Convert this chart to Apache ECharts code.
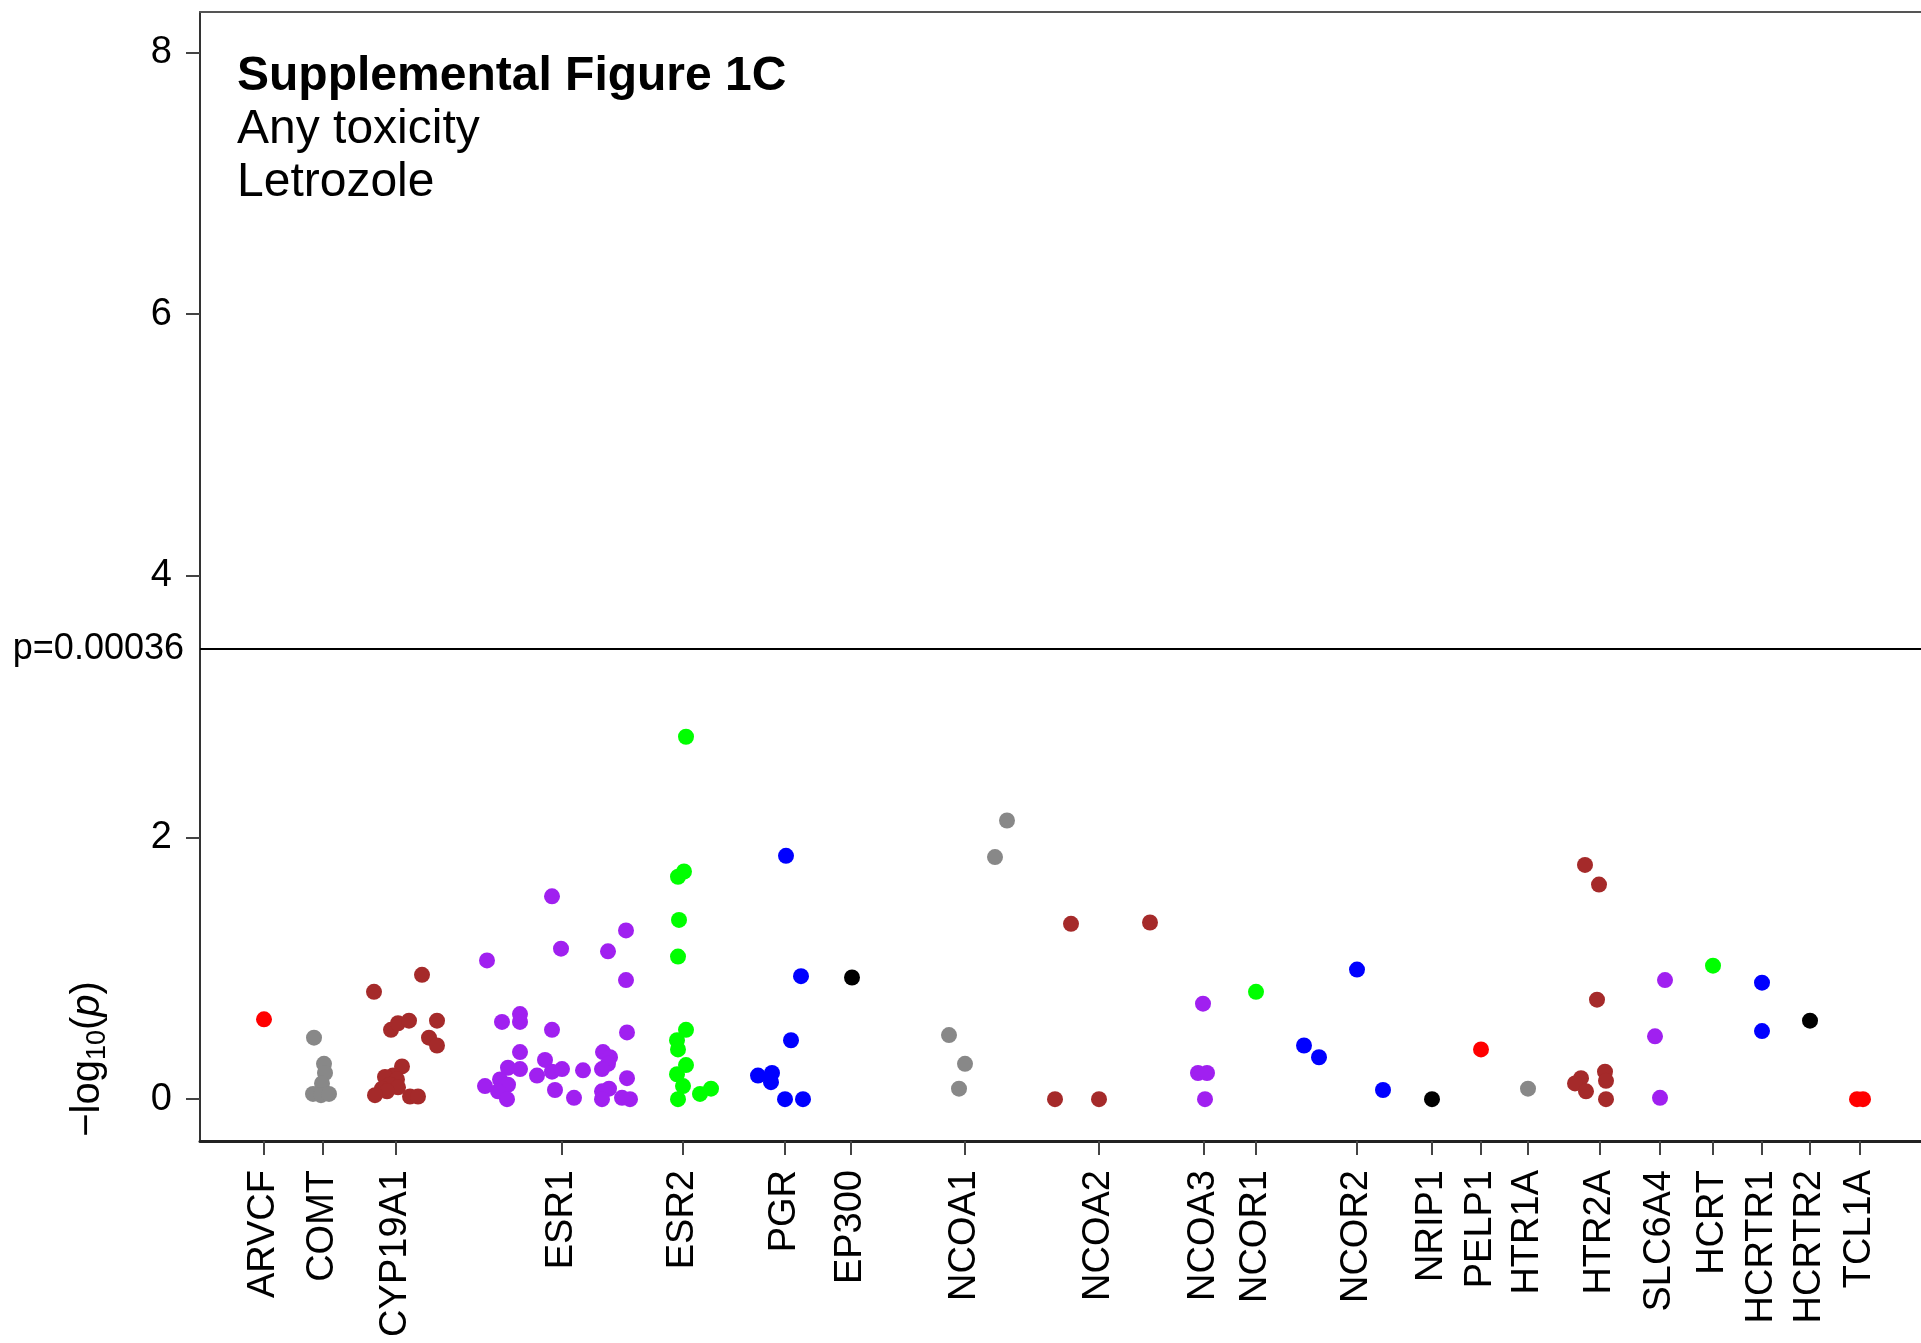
<!DOCTYPE html>
<html>
<head>
<meta charset="utf-8">
<script src="https://cdn.jsdelivr.net/npm/echarts@6/dist/echarts.min.js"></script>
<style>
html,body{margin:0;padding:0;background:#fff;}
#chart{width:1921px;height:1343px;}
</style>
</head>
<body>
<div id="chart"></div>
<script>
// Gene labels and their tick positions on the x scale
const geneNames = ['ARVCF','COMT','CYP19A1','ESR1','ESR2','PGR','EP300','NCOA1','NCOA2','NCOA3','NCOR1','NCOR2','NRIP1','PELP1','HTR1A','HTR2A','SLC6A4','HCRT','HCRTR1','HCRTR2','TCL1A'];
const geneTicks = [64,123,196,362,483,585,651,765,899,1004,1056,1157,1232,1281,1328,1400,1460,1513,1562,1610,1660];
const geneColors = ['#FF0000','#888888','#A52A2A','#A020F0','#00FF00','#0000FF','#000000','#888888','#A52A2A','#A020F0','#00FF00','#0000FF','#000000','#FF0000','#888888','#A52A2A','#A020F0','#00FF00','#0000FF','#000000','#FF0000'];

// Points per gene: [position, -log10(p)]
const ARVCF = [[64,0.61]];
const COMT = [[114,0.47],[124,0.27],[125,0.20],[122,0.12],[113,0.04],[121,0.03],[129,0.04]];
const CYP19A1 = [[174,0.82],[222,0.95],[191,0.53],[198,0.58],[209,0.60],[237,0.60],[229,0.47],[237,0.41],[202,0.25],[193,0.18],[185,0.17],[197,0.15],[190,0.11],[198,0.09],[182,0.08],[187,0.06],[175,0.03],[210,0.02],[218,0.02]];
const ESR1 = [[352,1.55],[426,1.29],[361,1.15],[408,1.13],[287,1.06],[426,0.91],[302,0.59],[320,0.65],[320,0.59],[352,0.53],[427,0.51],[320,0.36],[345,0.30],[403,0.36],[410,0.32],[408,0.27],[308,0.24],[320,0.23],[337,0.18],[352,0.21],[362,0.23],[383,0.22],[402,0.23],[427,0.16],[285,0.10],[300,0.15],[308,0.11],[298,0.06],[307,0.00],[355,0.07],[374,0.01],[402,0.06],[409,0.08],[402,0.00],[422,0.01],[430,0.00]];
const ESR2 = [[486,2.77],[484,1.74],[478,1.70],[479,1.37],[478,1.09],[486,0.53],[477,0.45],[478,0.38],[486,0.26],[477,0.19],[483,0.10],[478,0.00],[500,0.04],[511,0.08]];
const PGR = [[586,1.86],[601,0.94],[591,0.45],[558,0.18],[572,0.20],[571,0.13],[585,0.00],[603,0.00]];
const EP300 = [[652,0.93]];
const NCOA1 = [[807,2.13],[795,1.85],[749,0.49],[765,0.27],[759,0.08]];
const NCOA2 = [[871,1.34],[950,1.35],[855,0.00],[899,0.00]];
const NCOA3 = [[1003,0.73],[998,0.20],[1007,0.20],[1005,0.00]];
const NCOR1 = [[1056,0.82]];
const NCOR2 = [[1157,0.99],[1104,0.41],[1119,0.32],[1183,0.07]];
const NRIP1 = [[1232,0.00]];
const PELP1 = [[1281,0.38]];
const HTR1A = [[1328,0.08]];
const HTR2A = [[1385,1.79],[1399,1.64],[1397,0.76],[1381,0.16],[1375,0.12],[1386,0.06],[1405,0.21],[1406,0.14],[1406,0.00]];
const SLC6A4 = [[1465,0.91],[1455,0.48],[1460,0.01]];
const HCRT = [[1513,1.02]];
const HCRTR1 = [[1562,0.89],[1562,0.52]];
const HCRTR2 = [[1610,0.60]];
const TCL1A = [[1657,0.00],[1663,0.00]];

const genePoints = [ARVCF,COMT,CYP19A1,ESR1,ESR2,PGR,EP300,NCOA1,NCOA2,NCOA3,NCOR1,NCOR2,NRIP1,PELP1,HTR1A,HTR2A,SLC6A4,HCRT,HCRTR1,HCRTR2,TCL1A];

const yTicks = [0,2,4,6,8];
const thresholdP = 0.00036;
const titleText = 'Supplemental Figure 1C';
const subText = 'Any toxicity\nLetrozole';

const FONT = '"Liberation Sans", Arial, Helvetica, sans-serif';

const series = genePoints.map((pts, i) => ({
  name: geneNames[i],
  type: 'scatter',
  data: pts,
  symbol: 'circle',
  symbolSize: 16,
  itemStyle: { color: geneColors[i], opacity: 1 },
  z: 3
}));

series[0].markLine = {
  silent: true,
  symbol: ['none','none'],
  lineStyle: { color: '#000', width: 2, type: 'solid' },
  label: {
    show: true, position: 'start', distance: 16,
    formatter: 'p=' + thresholdP,
    color: '#000', fontSize: 36, fontFamily: FONT
  },
  data: [{ yAxis: -Math.log10(thresholdP) }]
};

const chart = echarts.init(document.getElementById('chart'), null, { renderer: 'canvas' });
chart.setOption({
  animation: false,
  backgroundColor: '#fff',
  title: {
    text: titleText,
    subtext: subText,
    left: 237, top: 50, padding: 0, itemGap: 0,
    textStyle: { fontFamily: FONT, fontSize: 48, fontWeight: 'bold', color: '#000', lineHeight: 53 },
    subtextStyle: { fontFamily: FONT, fontSize: 48, color: '#000', lineHeight: 53 }
  },
  grid: {
    left: 200, right: 0, top: 12, bottom: 202,
    show: false
  },
  xAxis: [{
    type: 'value', min: 0, max: 1721,
    splitLine: { show: false },
    axisLine: { show: true, onZero: false, lineStyle: { color: '#222', width: 3 } },
    axisTick: { show: true, customValues: geneTicks, length: 14, lineStyle: { color: '#444', width: 2 } },
    axisLabel: {
      show: true, customValues: geneTicks, rotate: 90, margin: 29,
      fontSize: 38, fontFamily: FONT, color: '#000',
      formatter: v => { const k = geneTicks.indexOf(Math.round(v)); return k >= 0 ? geneNames[k] : ''; }
    }
  }, {
    type: 'value', min: 0, max: 1721, position: 'top',
    splitLine: { show: false },
    axisLine: { show: true, onZero: false, lineStyle: { color: '#555', width: 2 } },
    axisTick: { show: false },
    axisLabel: { show: false }
  }],
  yAxis: {
    type: 'value', min: -0.32, max: 8.31,
    splitLine: { show: false },
    axisLine: { show: true, onZero: false, lineStyle: { color: '#333', width: 2 } },
    axisTick: { show: true, customValues: yTicks, length: 14, lineStyle: { color: '#444', width: 2 } },
    axisLabel: { show: true, customValues: yTicks, margin: 28, fontSize: 38, fontFamily: FONT, color: '#000' }
  },
  graphic: [{
    type: 'text',
    x: 88, y: 1059,
    rotation: Math.PI / 2,
    style: {
      text: '{a|\u2212log}{s|10}{a|(}{i|p}{a|)}',
      x: 0, y: 0,
      align: 'center', verticalAlign: 'middle',
      fill: '#000',
      rich: {
        a: { fontSize: 40, fontFamily: FONT, lineHeight: 46, fill: '#000' },
        s: { fontSize: 27, fontFamily: FONT, lineHeight: 28, verticalAlign: 'bottom', fill: '#000' },
        i: { fontSize: 40, fontFamily: FONT, fontStyle: 'italic', lineHeight: 46, fill: '#000' }
      }
    }
  }],
  series: series
});
</script>
</body>
</html>
